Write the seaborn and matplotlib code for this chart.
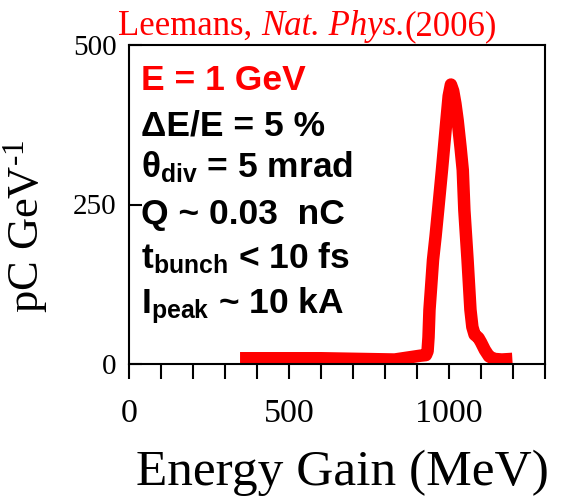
import matplotlib
matplotlib.use("Agg")
import matplotlib.pyplot as plt
import seaborn as sns
import pandas as pd

# Electron energy spectrum (energy gain in MeV vs. charge density in pC/GeV)
energy_mev = [347, 600, 830, 910, 928, 933, 936, 939, 944, 950, 958, 966, 978,
              992, 999, 1006, 1013, 1020, 1027, 1036, 1043, 1048, 1058, 1067,
              1073, 1080, 1092, 1100, 1112, 1125, 1140, 1165, 1198]
charge_density = [9, 9, 7, 13, 14, 20, 42, 85, 120, 163, 200, 241, 304,
                  382, 420, 438, 428, 408, 382, 340, 304, 241, 163, 85,
                  58, 46, 41, 34, 22, 12, 8, 7, 8]

x_ticks = list(range(0, 1301, 100))
x_tick_labels = [str(t) if t in (0, 500, 1000) else "" for t in x_ticks]
y_ticks = [0, 250, 500]

# citation pieces: (text, style)
title_parts = [("Leemans, ", "normal"), ("Nat. Phys.", "italic"), ("(2006)", "normal")]
x_label = "Energy Gain (MeV)"
y_label = r"pC GeV$^{\text{-1}}$"

beam_params = [
    ("E = 1 GeV", "red"),
    ("ΔE/E = 5 %", "black"),
    (r"θ$_{\mathbf{div}}$ = 5 mrad", "black"),
    ("Q ~ 0.03  nC", "black"),
    (r"t$_{\mathbf{bunch}}$ < 10 fs", "black"),
    (r"I$_{\mathbf{peak}}$ ~ 10 kA", "black"),
]

df = pd.DataFrame({"energy": energy_mev, "density": charge_density})

sns.set_theme(style="white")
plt.rcParams["font.family"] = ["Liberation Serif", "DejaVu Serif"]
plt.rcParams["mathtext.fontset"] = "custom"
plt.rcParams["mathtext.rm"] = "Liberation Serif"
plt.rcParams["mathtext.it"] = "Liberation Serif:italic"
plt.rcParams["mathtext.bf"] = "Liberation Sans:bold"

W, H = 561, 497
fig = plt.figure(figsize=(W / 100, H / 100), dpi=100)
ax_l, ax_r, ax_t, ax_b = 129, 545, 45, 364
ax = fig.add_axes([ax_l / W, 1 - ax_b / H, (ax_r - ax_l) / W, (ax_b - ax_t) / H])

sns.lineplot(data=df, x="energy", y="density", ax=ax, color="#ff0000",
             linewidth=9, solid_capstyle="butt", solid_joinstyle="round")

ax.set_xlim(0, 1300)
ax.set_ylim(0, 500)
ax.set_xticks(x_ticks)
ax.set_xticklabels(x_tick_labels)
ax.set_yticks(y_ticks)
ax.set_yticklabels([str(v) for v in y_ticks])

for s in ax.spines.values():
    s.set_visible(True)
    s.set_color("black")
    s.set_linewidth(1.5)

ax.tick_params(axis="x", direction="out", length=11, width=1.5, pad=14,
               labelsize=24.5, colors="black", bottom=True, top=False)
ax.tick_params(axis="y", direction="in", length=9.5, width=1.5, pad=9,
               labelsize=21, colors="black", left=True, right=False)

ax.set_xlabel(x_label, fontsize=37, color="black")
ax.xaxis.set_label_coords((342 - ax_l) / (ax_r - ax_l), -(485 - ax_b) / (ax_b - ax_t), transform=ax.transAxes)
ax.xaxis.label.set_verticalalignment("baseline")
ax.set_ylabel(y_label, fontsize=32, color="black")
ax.yaxis.set_label_coords(-(ax_l - 38) / (ax_r - ax_l), (364 - 226) / (ax_b - ax_t))
ax.yaxis.label.set_verticalalignment("baseline")

# citation line, laid out piece by piece so the italic journal name sits tight
renderer = fig.canvas.get_renderer()
x_px = 118
for txt, style in title_parts:
    t = fig.text(x_px / W, 1 - 35 / H, txt, color="#ff0000", fontsize=25,
                 style=style, ha="left", va="baseline")
    x_px += t.get_window_extent(renderer).width

baselines = [90, 136, 178, 224, 269, 314]
for (txt, col), yb in zip(beam_params, baselines):
    ax.text((141 - ax_l) / (ax_r - ax_l), (ax_b - yb) / (ax_b - ax_t), txt,
            transform=ax.transAxes, color=col, fontsize=25.5, fontweight="bold",
            family=["Liberation Sans", "DejaVu Sans"], ha="left", va="baseline")

fig.savefig("out.png", dpi=100, facecolor="white")
